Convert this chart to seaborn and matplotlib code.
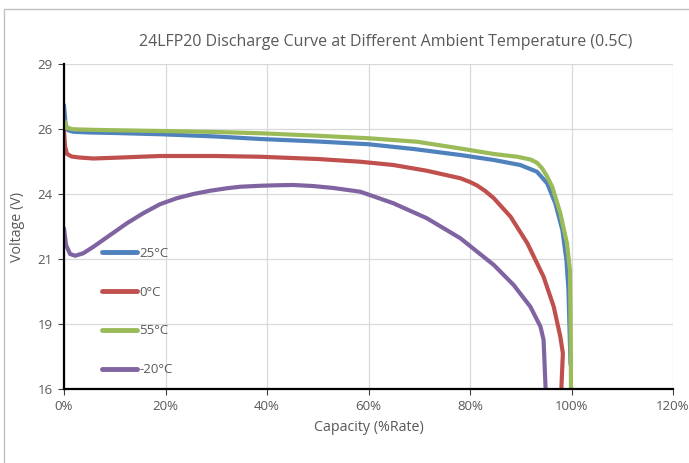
import numpy as np
import pandas as pd
import matplotlib
matplotlib.use("Agg")
import matplotlib.pyplot as plt
import matplotlib.patches as mpatches
from matplotlib.ticker import FuncFormatter, FixedLocator
import seaborn as sns

# ---------------------------------------------------------------
# Data (capacity as fraction, volts)
# ---------------------------------------------------------------
cap_25 = [0, 0.003, 0.008, 0.018, 0.05, 0.10, 0.19, 0.30, 0.387, 0.50, 0.60,
          0.689, 0.781, 0.847, 0.899, 0.932, 0.952, 0.968, 0.982, 0.990, 0.994,
          0.996, 0.998]
volt_25 = [27.36, 26.6, 26.35, 26.29, 26.26, 26.24, 26.19, 26.1, 26.0, 25.9, 25.79,
           25.6, 25.36, 25.16, 24.96, 24.69, 24.23, 23.43, 22.36, 21.16, 19.96,
           18.49, 17.0]

cap_0 = [0, 0.002, 0.006, 0.015, 0.03, 0.058, 0.10, 0.189, 0.30, 0.387, 0.50,
         0.584, 0.649, 0.715, 0.781, 0.80, 0.814, 0.83, 0.847, 0.880, 0.913, 0.945,
         0.965, 0.978, 0.983, 0.980]
volt_0 = [26.36, 25.7, 25.4, 25.3, 25.26, 25.22, 25.25, 25.32, 25.32, 25.29, 25.2,
          25.09, 24.96, 24.73, 24.43, 24.28, 24.14, 23.92, 23.63, 22.89, 21.83, 20.49,
          19.29, 18.09, 17.43, 16.0]

cap_55 = [0, 0.002, 0.005, 0.018, 0.05, 0.10, 0.19, 0.30, 0.387, 0.50, 0.60,
          0.696, 0.781, 0.847, 0.893, 0.919, 0.932, 0.942, 0.952, 0.962, 0.978,
          0.991, 0.997, 0.998, 0.999]
volt_55 = [26.5, 26.69, 26.45, 26.39, 26.37, 26.35, 26.32, 26.28, 26.23, 26.13, 26.03,
           25.89, 25.62, 25.4, 25.29, 25.18, 25.05, 24.83, 24.5, 24.09, 23.03,
           21.83, 20.76, 18.89, 16.0]

cap_m20 = [0, 0.002, 0.004, 0.012, 0.022, 0.038, 0.058, 0.091, 0.124, 0.156, 0.189,
           0.222, 0.255, 0.288, 0.321, 0.347, 0.387, 0.42, 0.452, 0.49, 0.531,
           0.584, 0.649, 0.715, 0.781, 0.847, 0.886, 0.919, 0.939, 0.945, 0.949]
volt_m20 = [22.43, 22.1, 21.76, 21.4, 21.33, 21.43, 21.69, 22.16, 22.63, 23.03, 23.39,
            23.63, 23.8, 23.93, 24.03, 24.09, 24.13, 24.15, 24.16, 24.12, 24.04,
            23.89, 23.43, 22.83, 22.03, 20.96, 20.16, 19.29, 18.49, 17.96, 16.0]

series = {"25°C": (cap_25, volt_25), "0°C": (cap_0, volt_0),
          "55°C": (cap_55, volt_55), "-20°C": (cap_m20, volt_m20)}
temp_order = ["25°C", "0°C", "55°C", "-20°C"]
colors = {"25°C": "#4F81BD", "0°C": "#C0504D", "55°C": "#9BBB59", "-20°C": "#8064A2"}

x_ticks = [0, 0.2, 0.4, 0.6, 0.8, 1.0, 1.2]
y_ticks = [16, 18.6, 21.2, 23.8, 26.4, 29]

rows = []
for name in temp_order:
    cx, vy = series[name]
    for c, v in zip(cx, vy):
        rows.append({"temp": name, "cap": c, "volt": v})
df = pd.DataFrame(rows)

# ---------------------------------------------------------------
# Plot
# ---------------------------------------------------------------
sns.set_style("white")
plt.rcParams["font.family"] = ["Open Sans", "DejaVu Sans"]
grey = "#595959"

fig = plt.figure(figsize=(6.89, 4.63), dpi=100)
ax = fig.add_axes([64 / 689, 1 - 389 / 463, 609 / 689, 325 / 463])

sns.lineplot(data=df, x="cap", y="volt", hue="temp", hue_order=temp_order,
             palette=colors, sort=False, estimator=None, units="temp",
             linewidth=3.0, solid_joinstyle="round", ax=ax)

ax.set_xlim(0, 1.2)
ax.set_ylim(16, 29)
ax.xaxis.set_major_locator(FixedLocator(x_ticks))
ax.yaxis.set_major_locator(FixedLocator(y_ticks))
ax.xaxis.set_major_formatter(FuncFormatter(lambda v, p: f"{v:.0%}"))
ax.yaxis.set_major_formatter(FuncFormatter(lambda v, p: f"{v:.0f}"))
ax.grid(True, color="#D9D9D9", linewidth=0.9)
ax.set_axisbelow(True)

for side in ["top", "right"]:
    ax.spines[side].set_visible(False)
for side in ["left", "bottom"]:
    ax.spines[side].set_color("black")
    ax.spines[side].set_linewidth(1.6)
ax.tick_params(axis="both", direction="out", length=4, width=0.8, color="#404040",
               labelcolor=grey, labelsize=9.5, pad=4)
ax.tick_params(left=True, bottom=True)

ax.set_xlabel("Capacity (%Rate)", color=grey, fontsize=10.3, labelpad=5)
ax.set_ylabel("Voltage (V)", color=grey, fontsize=10.3, labelpad=9)

fig.text(386 / 689, 1 - 42 / 463,
         "24LFP20 Discharge Curve at Different Ambient Temperature (0.5C)",
         ha="center", va="center", color=grey, fontsize=11.5)

handles, labels = ax.get_legend_handles_labels()
leg = ax.legend(handles, labels, loc="upper left", bbox_to_anchor=(0.062, 0.437),
                frameon=False, fontsize=9.5, handlelength=2.7, handletextpad=0.15,
                labelspacing=1.95, borderpad=0, borderaxespad=0)
for t in leg.get_texts():
    t.set_color(grey)
for h in leg.get_lines():
    h.set_linewidth(3.5)

# outer chart-area border
fig.patches.append(mpatches.Rectangle((4 / 689, -0.1), 1.2, 1 - 9 / 463 + 0.1,
                                      transform=fig.transFigure, fill=False,
                                      edgecolor="#BFBFBF", linewidth=1.0))

fig.savefig("out.png", dpi=100)
